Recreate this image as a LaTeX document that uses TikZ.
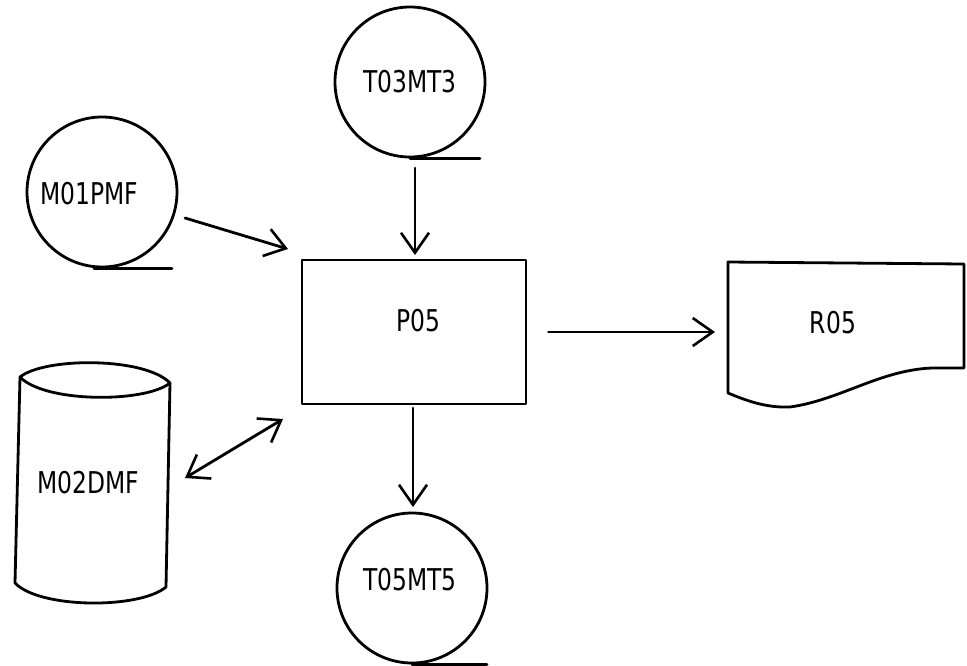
\documentclass[tikz,border=0pt]{standalone}
\usepackage{fontspec}
\setmainfont{DejaVu Sans}[FakeStretch=0.78]
\usetikzlibrary{arrows.meta}
\begin{document}
\begin{tikzpicture}[x=1pt,y=-1pt,
  every node/.append style={font=\fontsize{30}{30}\selectfont},
  ln/.style={line width=2.8pt, line cap=round, line join=round},
  tapebox/.style={ln, draw, circle, minimum size=150pt, inner sep=0pt},
  flow/.style={ln, -{Straight Barb[length=20pt,width=28pt,line width=2.6pt]}},
  dflow/.style={ln, {Straight Barb[length=20pt,width=28pt,line width=2.6pt]}-{Straight Barb[length=20pt,width=28pt,line width=2.6pt]}},
  txt/.style={inner sep=0pt, text height=22pt, text depth=0pt, anchor=center}
]
\useasboundingbox (0,0) rectangle (967,665);
\fill[white] (0,0) rectangle (967,665);

% magnetic tapes
\node[tapebox] (t03) at (410,82) {};
\node[txt] (t03l) at (410,81) {T03MT3};
\draw[ln] (t03.south) -- ++(70,0);

\node[tapebox] (m01) at (102,192) {};
\node[txt] (m01l) at (89,193) {M01PMF};
\draw[ln] (m01.south) -- ++(-8,0) -- ++(78,0);

\node[tapebox] (t05) at (412,588) {};
\node[txt] (t05l) at (410,579) {T05MT5};
\draw[ln] (t05.south) -- ++(75,0);

% process
\node[ln, draw, rectangle, minimum width=224pt, minimum height=144pt, inner sep=0pt] (p05) at (414,332) {};
\node[txt] (p05l) at (418,320) {P05};

% report (document)
\node[minimum width=236pt, minimum height=145pt, inner sep=0pt, anchor=north west] (r05) at (728,262) {};
\draw[ln] (728,262) -- (964,264) -- (964,368) -- (932,368)
  .. controls (880,370) and (840,400) .. (790,407)
  .. controls (765,408) and (745,400) .. (728,393) -- cycle;
\node[txt] (r05l) at (833,322) {R05};

% disk
\node[minimum width=152pt, minimum height=240pt, inner sep=0pt] (m02) at (92,483) {};
\draw[ln] (20,377) .. controls (45,357) and (145,357) .. (170,383);
\draw[ln] (20,377) .. controls (45,403) and (145,403) .. (170,383);
\draw[ln] (20,377) -- (15,583) .. controls (40,609) and (140,609) .. (166,587) -- (170,383);
\node[txt] (m02l) at (88,482) {M02DMF};

% connectors
\coordinate (a1s) at (185,218);
\coordinate (a1e) at (288,249);
\draw[flow] (a1s) -- (a1e);

\coordinate (a2s) at (415,168);
\coordinate (a2e) at (415,255);
\draw[flow] (a2s) -- (a2e);

\draw[flow, shorten <=21pt, shorten >=13pt] (p05.east) -- (r05.west |- p05.east);

\coordinate (a4s) at (413,408);
\coordinate (a4e) at (413,507);
\draw[flow] (a4s) -- (a4e);

\coordinate (a5s) at (185,478);
\coordinate (a5e) at (283,419);
\draw[dflow] (a5s) -- (a5e);
\end{tikzpicture}
\end{document}
